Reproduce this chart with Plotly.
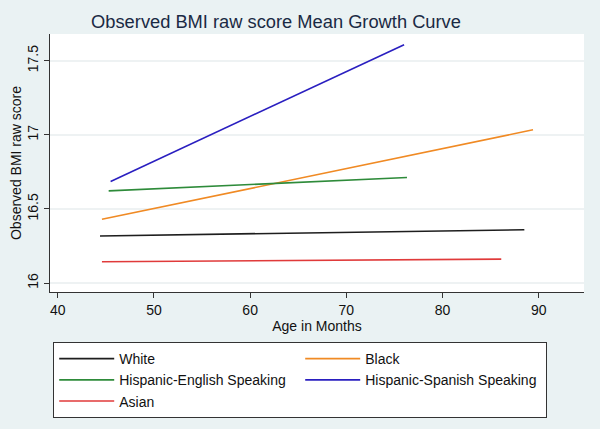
import plotly.graph_objects as go

groups = ["White", "Black", "Hispanic-English Speaking", "Hispanic-Spanish Speaking", "Asian"]
age_start = [44.4, 44.6, 45.3, 45.5, 44.6]
age_end = [88.5, 89.4, 76.3, 76.0, 86.1]
bmi_start = [16.318, 16.430, 16.622, 16.685, 16.144]
bmi_end = [16.360, 17.034, 16.712, 17.608, 16.162]
colors = ["#1e1e1e", "#F08A24", "#2E8B3A", "#2A1FC0", "#E03A3A"]

x_ticks = [40, 50, 60, 70, 80, 90]
y_ticks = [16, 16.5, 17, 17.5]
y_tick_labels = ["16", "16.5", "17", "17.5"]

FONT = "Liberation Sans, Arial, Helvetica, sans-serif"

fig = go.Figure()
for g, xs, xe, ys, ye, c in zip(groups, age_start, age_end, bmi_start, bmi_end, colors):
    fig.add_trace(go.Scatter(
        x=[xs, xe], y=[ys, ye], mode="lines", name=g,
        line=dict(color=c, width=1.6),
    ))

fig.update_layout(
    width=600, height=429,
    margin=dict(l=50, r=16, t=34, b=137, autoexpand=False),
    paper_bgcolor="#EAF2F3",
    plot_bgcolor="white",
    font=dict(family=FONT, size=14, color="#111111"),
    title=dict(
        text="Observed BMI raw score Mean Growth Curve",
        x=276/600, xanchor="center", xref="container",
        y=1 - 22/429, yanchor="middle", yref="container",
        font=dict(size=18.3, color="#1a2a44", family=FONT),
    ),
    showlegend=True,
    legend=dict(
        orientation="h",
        x=0.006, xanchor="left",
        y=-0.194, yanchor="top",
        entrywidth=176, entrywidthmode="pixels",
        bgcolor="white", bordercolor="#333333", borderwidth=1,
        font=dict(size=14, family=FONT, color="#111111"),
        traceorder="normal",
        itemwidth=55,
    ),
)

fig.update_xaxes(
    range=[39.2, 94.7],
    tickvals=x_ticks,
    ticks="outside", ticklen=5, tickcolor="#333333",
    showline=True, linecolor="#333333", linewidth=1,
    showgrid=False, zeroline=False, automargin=False,
    title=dict(text="Age in Months", font=dict(size=14), standoff=4),
    tickfont=dict(size=14),
)
fig.update_yaxes(
    range=[15.94, 17.68],
    tickvals=y_ticks, ticktext=y_tick_labels,
    tickangle=-90,
    ticks="outside", ticklen=5, tickcolor="#333333",
    showline=True, linecolor="#333333", linewidth=1,
    showgrid=True, gridcolor="#EEF2F3", gridwidth=1.5,
    zeroline=False, automargin=False,
    title=dict(text="Observed BMI raw score", font=dict(size=14), standoff=0),
    tickfont=dict(size=14),
)

fig.write_html("out.html", config={"displayModeBar": False},
               post_script="document.body.style.margin='0';")
